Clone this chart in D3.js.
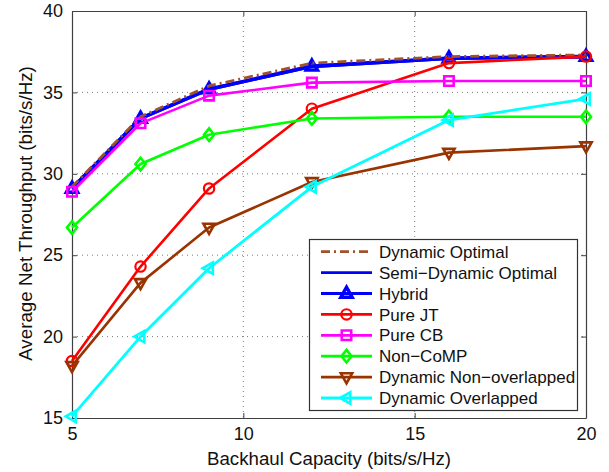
<!DOCTYPE html>
<html>
<head>
<meta charset="utf-8">
<script src="https://cdn.jsdelivr.net/npm/d3@7"></script>
<style>
  html, body { margin: 0; padding: 0; background: #fff; }
  svg { display: block; font-family: "Liberation Sans", Arial, sans-serif; }
</style>
</head>
<body>
<svg id="chart" width="609" height="472"></svg>
<script>
// Backhaul capacity (bits/s/Hz)
const capacity = [5, 7, 9, 12, 16, 20];

// Average net throughput per scheme (bits/s/Hz)
const dynamicOptimal       = [29.2, 33.5, 35.4, 36.8, 37.2, 37.3];
const semiDynamicOptimal   = [29.1, 33.4, 35.2, 36.6, 37.1, 37.2];
const hybrid               = [29.1, 33.4, 35.2, 36.6, 37.1, 37.2];
const pureJT               = [18.5, 24.3, 29.1, 34.0, 36.8, 37.2];
const pureCB               = [28.9, 33.1, 34.8, 35.6, 35.7, 35.7];
const nonCoMP              = [26.7, 30.6, 32.4, 33.4, 33.5, 33.5];
const dynamicNonOverlapped = [18.2, 23.3, 26.7, 29.5, 31.3, 31.7];
const dynamicOverlapped    = [15.1, 20.0, 24.2, 29.2, 33.3, 34.6];

const seriesNames = ["Dynamic Optimal", "Semi\u2212Dynamic Optimal", "Hybrid", "Pure JT",
                     "Pure CB", "Non\u2212CoMP", "Dynamic Non\u2212overlapped", "Dynamic Overlapped"];
const seriesValues = [dynamicOptimal, semiDynamicOptimal, hybrid, pureJT,
                      pureCB, nonCoMP, dynamicNonOverlapped, dynamicOverlapped];

const xTicks = [5, 10, 15, 20];
const yTicks = [15, 20, 25, 30, 35, 40];

// Styling for each scheme
const styles = [
  { color: "#a0522d", dash: "9,4,2,4", marker: null, width: 2.8 },
  { color: "#0000ff", dash: null, marker: null, width: 3.6 },
  { color: "#0000ff", dash: null, marker: "up", width: 3.6 },
  { color: "#ff0000", dash: null, marker: "circle", width: 2.6 },
  { color: "#ff00ff", dash: null, marker: "square", width: 2.6 },
  { color: "#00ff00", dash: null, marker: "diamond", width: 2.6 },
  { color: "#993300", dash: null, marker: "down", width: 2.6 },
  { color: "#00ffff", dash: null, marker: "left", width: 2.8 }
];

const svg = d3.select("#chart");
const plot = { left: 72, top: 11, right: 586, bottom: 418 };

const x = d3.scaleLinear().domain([5, 20]).range([plot.left, plot.right]);
const y = d3.scaleLinear().domain([15, 40]).range([plot.bottom, plot.top]);

// Dotted grid
const grid = svg.append("g").attr("stroke", "#7a7a7a").attr("stroke-width", 1)
  .attr("stroke-dasharray", "1,4");
grid.selectAll("line.gx").data(xTicks.slice(1, -1)).join("line")
  .attr("x1", d => x(d)).attr("x2", d => x(d))
  .attr("y1", plot.top).attr("y2", plot.bottom);
grid.selectAll("line.gy").data(yTicks.slice(1, -1)).join("line")
  .attr("x1", plot.left).attr("x2", plot.right)
  .attr("y1", d => y(d)).attr("y2", d => y(d));

// Axes with inward ticks on all four sides
const axisColor = "#404040";
function styleAxis(g) {
  g.select(".domain").attr("stroke", axisColor).attr("stroke-width", 1.2);
  g.selectAll(".tick line").attr("stroke", axisColor).attr("stroke-width", 1);
  g.selectAll(".tick text").attr("fill", "#111").style("font-size", "18px")
    .style("font-family", "'Liberation Sans', Arial, sans-serif");
}
svg.append("g").attr("transform", `translate(0,${plot.bottom})`)
  .call(d3.axisBottom(x).tickValues(xTicks).tickSizeInner(-5).tickSizeOuter(0).tickPadding(9))
  .call(styleAxis);
svg.append("g").attr("transform", `translate(0,${plot.top})`)
  .call(d3.axisTop(x).tickValues(xTicks).tickSizeInner(-5).tickSizeOuter(0).tickFormat(""))
  .call(styleAxis);
svg.append("g").attr("transform", `translate(${plot.left},0)`)
  .call(d3.axisLeft(y).tickValues(yTicks).tickSizeInner(-5).tickSizeOuter(0).tickPadding(9))
  .call(styleAxis);
svg.append("g").attr("transform", `translate(${plot.right},0)`)
  .call(d3.axisRight(y).tickValues(yTicks).tickSizeInner(-5).tickSizeOuter(0).tickFormat(""))
  .call(styleAxis);

// Marker shapes
const markerSize = 6.3;
function markerPath(type, s) {
  switch (type) {
    case "up":      return `M0,${-s}L${s * 0.9},${s * 0.6}L${-s * 0.9},${s * 0.6}Z`;
    case "down":    return `M0,${s}L${s * 0.9},${-s * 0.6}L${-s * 0.9},${-s * 0.6}Z`;
    case "left":    return `M${-s},0L${s * 0.6},${-s * 0.9}L${s * 0.6},${s * 0.9}Z`;
    case "square":  return `M${-s * 0.75},${-s * 0.75}h${s * 1.5}v${s * 1.5}h${-s * 1.5}Z`;
    case "diamond": return `M0,${-s}L${s * 0.8},0L0,${s}L${-s * 0.8},0Z`;
  }
}
function drawMarker(g, type, color, cx, cy) {
  if (type === "circle") {
    g.append("circle").attr("cx", cx).attr("cy", cy).attr("r", markerSize * 0.82)
      .attr("fill", "none").attr("stroke", color).attr("stroke-width", 2.2);
  } else {
    g.append("path").attr("d", markerPath(type, markerSize))
      .attr("transform", `translate(${cx},${cy})`)
      .attr("fill", "none").attr("stroke", color)
      .attr("stroke-width", type === "up" ? 3.4 : 2.6)
      .attr("stroke-linejoin", "miter");
  }
}

// Series lines and markers
const line = d3.line().x((d, i) => x(capacity[i])).y(d => y(d));
const drawOrder = [1, 2, 0, 3, 4, 5, 6, 7];
drawOrder.forEach(k => {
  const st = styles[k];
  const g = svg.append("g");
  g.append("path").datum(seriesValues[k]).attr("d", line)
    .attr("fill", "none").attr("stroke", st.color)
    .attr("stroke-width", st.width)
    .attr("stroke-dasharray", st.dash)
    .attr("stroke-linejoin", "round");
  if (st.marker) {
    seriesValues[k].forEach((v, i) => drawMarker(g, st.marker, st.color, x(capacity[i]), y(v)));
  }
});

// Legend
const legend = { x: 309.5, y: 239.5, w: 268, h: 171, row: 20.9, first: 251.7 };
const lg = svg.append("g");
lg.append("rect").attr("x", legend.x).attr("y", legend.y)
  .attr("width", legend.w).attr("height", legend.h)
  .attr("fill", "#fff").attr("stroke", "#333").attr("stroke-width", 1.2);
seriesNames.forEach((name, k) => {
  const st = styles[k];
  const cy = legend.first + k * legend.row;
  lg.append("line").attr("x1", 321).attr("x2", 372).attr("y1", cy).attr("y2", cy)
    .attr("stroke", st.color).attr("stroke-width", 2.8)
    .attr("stroke-dasharray", st.dash);
  if (st.marker) drawMarker(lg, st.marker, st.color, 346.5, cy);
  lg.append("text").attr("x", 379).attr("y", cy).attr("dy", "0.36em")
    .style("font-size", "17px").attr("fill", "#111").text(name);
});

// Axis titles
svg.append("text").attr("x", 329).attr("y", 465)
  .attr("text-anchor", "middle").style("font-size", "18.7px").attr("fill", "#111")
  .text("Backhaul Capacity (bits/s/Hz)");
svg.append("text")
  .attr("transform", `translate(32,${213.5}) rotate(-90)`)
  .attr("text-anchor", "middle").style("font-size", "18.8px").attr("fill", "#111")
  .text("Average Net Throughput (bits/s/Hz)");
</script>
</body>
</html>
